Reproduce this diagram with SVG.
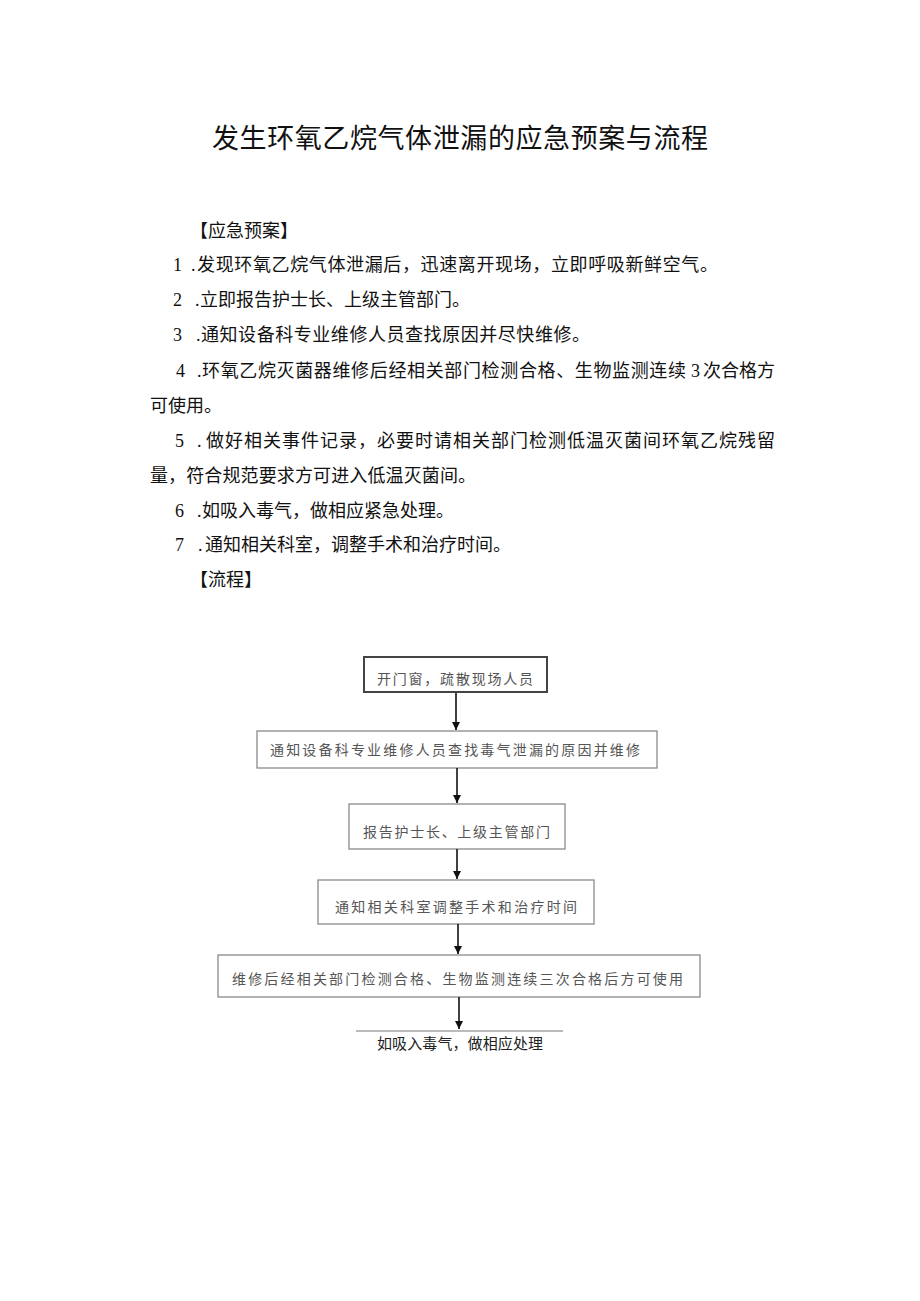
<svg xmlns="http://www.w3.org/2000/svg" width="920" height="1301" viewBox="0 0 920 1301">
<style>
.title{font-family:"Noto Sans CJK SC",sans-serif;font-size:27px;fill:#111;}
.body{font-family:"Liberation Serif","Noto Sans CJK SC",serif;font-size:18px;fill:#111;}
.box{fill:#fff;stroke:#8a8a8a;stroke-width:1.3;}
.box1{fill:#fff;stroke:#444;stroke-width:2;}
.bt{font-family:"Noto Sans CJK SC",sans-serif;font-size:14px;fill:#555;}
.ln{stroke:#111;stroke-width:1.6;fill:none;}
.note{font-family:"Liberation Serif","Noto Sans CJK SC",serif;font-size:15px;fill:#222;}
</style>
<defs>
<marker id="ah" markerWidth="10" markerHeight="10" refX="9" refY="5" orient="auto" markerUnits="userSpaceOnUse">
<path d="M1,1 L9,5 L1,9 Z" fill="#111"/>
</marker>
</defs>
<rect width="920" height="1301" fill="#fff"/>
<text class="title" x="212" y="148" textLength="496" lengthAdjust="spacing">发生环氧乙烷气体泄漏的应急预案与流程</text>
<g id="plan">
<text class="body" x="190" y="237">【应急预案】</text>
<text class="body" y="271"><tspan x="173">1</tspan><tspan x="191">.</tspan><tspan x="197" textLength="521" lengthAdjust="spacing">发现环氧乙烷气体泄漏后，迅速离开现场，立即呼吸新鲜空气。</tspan></text>
<text class="body" y="306"><tspan x="173">2</tspan><tspan x="195">.</tspan><tspan x="200">立即报告护士长、上级主管部门。</tspan></text>
<text class="body" y="341"><tspan x="173">3</tspan><tspan x="196">.</tspan><tspan x="201" textLength="389" lengthAdjust="spacing">通知设备科专业维修人员查找原因并尽快维修。</tspan></text>
<text class="body" y="377"><tspan x="176">4</tspan><tspan x="197">.</tspan><tspan x="202" textLength="484" lengthAdjust="spacing">环氧乙烷灭菌器维修后经相关部门检测合格、生物监测连续</tspan><tspan x="691">3</tspan><tspan x="703" textLength="72" lengthAdjust="spacing">次合格方</tspan></text>
<text class="body" x="150" y="412">可使用。</text>
<text class="body" y="447"><tspan x="175">5</tspan><tspan x="197">.</tspan><tspan x="206" textLength="569" lengthAdjust="spacing">做好相关事件记录，必要时请相关部门检测低温灭菌间环氧乙烷残留</tspan></text>
<text class="body" x="150" y="482" textLength="326" lengthAdjust="spacing">量，符合规范要求方可进入低温灭菌间。</text>
<text class="body" y="517"><tspan x="175">6</tspan><tspan x="197">.</tspan><tspan x="202">如吸入毒气，做相应紧急处理。</tspan></text>
<text class="body" y="551"><tspan x="175">7</tspan><tspan x="198">.</tspan><tspan x="205">通知相关科室，调整手术和治疗时间。</tspan></text>
<text class="body" x="190" y="586">【流程】</text>
</g>
<g id="n1"><rect class="box1" x="364" y="657" width="183" height="35"/><text class="bt" x="377" y="684" textLength="156" lengthAdjust="spacing">开门窗，疏散现场人员</text></g>
<g id="n2"><rect class="box" x="257" y="731" width="400" height="37"/><text class="bt" x="270" y="755" textLength="370" lengthAdjust="spacing">通知设备科专业维修人员查找毒气泄漏的原因并维修</text></g>
<g id="n3"><rect class="box" x="349" y="804" width="216" height="45"/><text class="bt" x="363" y="837" textLength="187" lengthAdjust="spacing">报告护士长、上级主管部门</text></g>
<g id="n4"><rect class="box" x="318" y="880" width="276" height="44"/><text class="bt" x="335" y="912" textLength="242" lengthAdjust="spacing">通知相关科室调整手术和治疗时间</text></g>
<g id="n5"><rect class="box" x="218" y="955" width="482" height="42"/><text class="bt" x="232" y="984" textLength="451" lengthAdjust="spacing">维修后经相关部门检测合格、生物监测连续三次合格后方可使用</text></g>
<g id="n6"><line x1="356" y1="1031" x2="563" y2="1031" stroke="#777" stroke-width="1"/><text class="note" x="377" y="1049" textLength="166" lengthAdjust="spacing">如吸入毒气，做相应处理</text></g>
<g id="connectors">
<line class="ln" x1="456" y1="693" x2="456" y2="730" marker-end="url(#ah)"/>
<line class="ln" x1="457" y1="768" x2="457" y2="803" marker-end="url(#ah)"/>
<line class="ln" x1="457" y1="849" x2="457" y2="879" marker-end="url(#ah)"/>
<line class="ln" x1="458" y1="924" x2="458" y2="954" marker-end="url(#ah)"/>
<line class="ln" x1="459" y1="997" x2="459" y2="1029" marker-end="url(#ah)"/>
</g>
</svg>
